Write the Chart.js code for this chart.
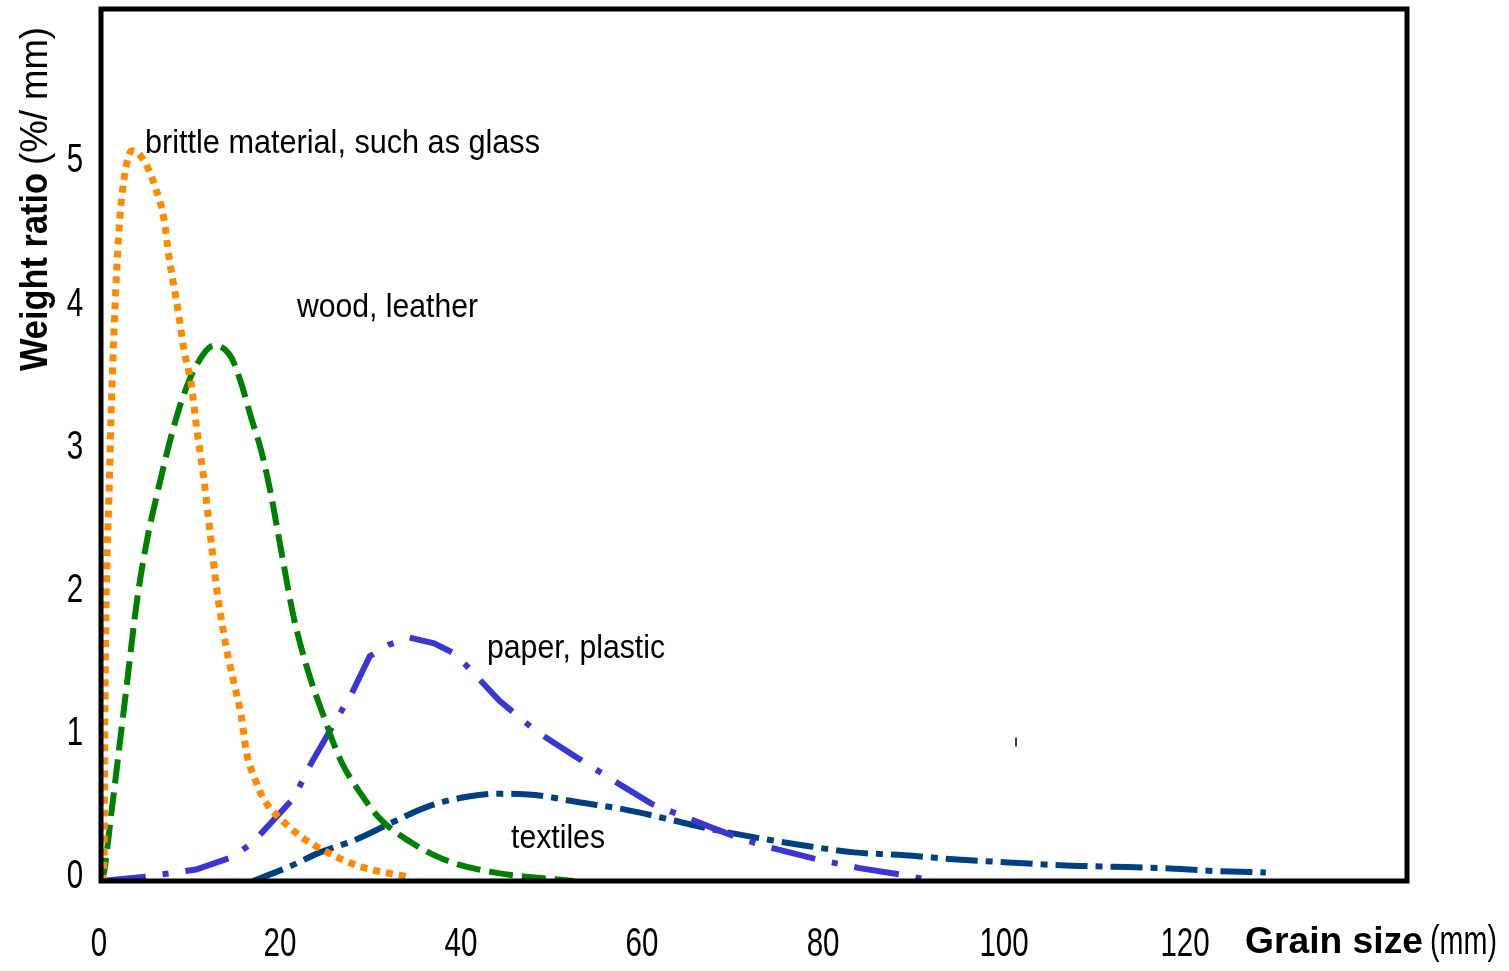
<!DOCTYPE html>
<html>
<head>
<meta charset="utf-8">
<script src="https://cdn.jsdelivr.net/npm/chart.js@4/dist/chart.umd.min.js"></script>
<style>
  html, body { margin: 0; padding: 0; background: #fff; }
  canvas { display: block; }
</style>
</head>
<body>
<canvas id="grain-chart" width="1509" height="971"></canvas>
<script>
  // grain size distribution curves
  const glassX = [0, 0.33, 0.44, 0.66, 0.88, 1.1, 1.44, 1.99, 2.54, 3.43, 4.75, 6.08, 6.96, 7.51, 8.07, 8.62, 9.17, 9.94, 10.6, 11.38, 12.15, 12.7, 13.26, 13.9, 14.7, 15.5, 16.1, 16.9, 18.0, 19.9, 22.1, 25.0, 28.7, 33.8];
  const glassY = [0, 0.15, 1.26, 2.24, 2.68, 3.22, 3.85, 4.55, 4.9, 5.1, 5.03, 4.83, 4.62, 4.36, 4.15, 3.94, 3.71, 3.48, 3.15, 2.8, 2.38, 2.08, 1.84, 1.61, 1.38, 1.15, 0.89, 0.73, 0.57, 0.43, 0.31, 0.2, 0.1, 0.03];

  const woodX = [0, 0.33, 1.1, 1.77, 2.87, 3.98, 5.08, 6.19, 7.73, 8.84, 10.28, 12.5, 14.36, 15.47, 16.57, 17.68, 18.78, 19.9, 21.3, 22.76, 24.6, 26.5, 28.7, 30.9, 34.25, 37.9, 43.4, 52.3];
  const woodY = [0, 0.06, 0.45, 0.8, 1.38, 1.96, 2.38, 2.7, 3.1, 3.34, 3.57, 3.74, 3.66, 3.48, 3.24, 3.01, 2.7, 2.31, 1.84, 1.49, 1.15, 0.84, 0.61, 0.43, 0.27, 0.15, 0.06, 0];

  const paperX = [0, 4.97, 10.5, 14.6, 16.8, 21.3, 23.2, 26.3, 27.7, 29.7, 31.8, 34.1, 36.8, 39.0, 40.6, 44.0, 48.0, 52.4, 56.4, 60.8, 65.2, 67.2, 70.1, 73.5, 79.2, 83.8, 88.8, 92.0];
  const paperY = [0, 0.03, 0.08, 0.17, 0.27, 0.58, 0.82, 1.16, 1.31, 1.57, 1.65, 1.7, 1.66, 1.59, 1.49, 1.26, 1.05, 0.87, 0.71, 0.54, 0.43, 0.38, 0.31, 0.24, 0.15, 0.09, 0.04, 0];

  const textileX = [16.8, 20.8, 24.2, 28.2, 32.2, 36.1, 40.6, 44.0, 48.0, 52.8, 57.8, 62.8, 66.1, 71.8, 77.5, 83.2, 88.8, 94.6, 100.2, 106.0, 111.6, 117.3, 123.0, 128.7];
  const textileY = [0, 0.1, 0.2, 0.29, 0.41, 0.52, 0.59, 0.61, 0.6, 0.55, 0.5, 0.43, 0.38, 0.31, 0.25, 0.2, 0.18, 0.15, 0.13, 0.11, 0.1, 0.09, 0.07, 0.06];

  // stray tick mark in the original figure
  const markX = [101.1];
  const markY = [0.97];

  const seriesNames = ["brittle material, such as glass", "wood, leather", "paper, plastic", "textiles"];
  const xTicks = [0, 20, 40, 60, 80, 100, 120];
  const yTicks = [0, 1, 2, 3, 4, 5];

  const FONT = '"Liberation Sans", Arial, sans-serif';

  const toPoints = (xs, ys) => xs.map((x, i) => ({ x: x, y: ys[i] }));

  // draw text squeezed/stretched horizontally to a target width
  function fitText(ctx, str, x, y, font, width) {
    ctx.save();
    ctx.font = font;
    const sx = width / ctx.measureText(str).width;
    ctx.translate(x, y);
    ctx.scale(sx, 1);
    ctx.textAlign = "left";
    ctx.fillText(str, 0, 0);
    ctx.restore();
  }

  function scaledText(ctx, str, cx, cy, font, sx) {
    ctx.save();
    ctx.font = font;
    const w = ctx.measureText(str).width * sx;
    ctx.translate(cx - w / 2, cy);
    ctx.scale(sx, 1);
    ctx.textAlign = "left";
    ctx.textBaseline = "middle";
    ctx.fillText(str, 0, 0);
    ctx.restore();
  }

  const framePlugin = {
    id: "frameAndText",
    afterDraw(chart) {
      const ctx = chart.ctx;
      const ca = chart.chartArea;
      const xs = chart.scales.x;
      const ys = chart.scales.y;

      ctx.save();
      ctx.strokeStyle = "#000";
      ctx.lineWidth = 5;
      ctx.strokeRect(ca.left, ca.top, ca.right - ca.left, ca.bottom - ca.top);

      ctx.fillStyle = "#000";
      ctx.textBaseline = "alphabetic";

      // tick labels
      xTicks.forEach(v => scaledText(ctx, String(v), xs.getPixelForValue(v) - 2, 945, "41px " + FONT, 0.72));
      yTicks.forEach(v => scaledText(ctx, String(v), 75, ys.getPixelForValue(v) - 4, "41px " + FONT, 0.72));

      // curve labels
      fitText(ctx, seriesNames[0], 145, 153, "34px " + FONT, 395);
      fitText(ctx, seriesNames[1], 297, 317, "34px " + FONT, 181);
      fitText(ctx, seriesNames[2], 487, 658, "34px " + FONT, 178);
      fitText(ctx, seriesNames[3], 511, 848, "34px " + FONT, 94);

      // x axis title
      fitText(ctx, "Grain size", 1245, 953, "bold 36px " + FONT, 178);
      fitText(ctx, "(mm)", 1430, 954, "40px " + FONT, 67);

      // y axis title, rotated
      ctx.save();
      ctx.translate(47, 371);
      ctx.rotate(-Math.PI / 2);
      fitText(ctx, "Weight ratio", 0, 0, "bold 38px " + FONT, 198);
      fitText(ctx, "(%/ mm)", 206, 0, "38px " + FONT, 138);
      ctx.restore();

      ctx.restore();
    }
  };

  const lineSet = (label, xs, ys, color, width, dash, tension) => ({
    label: label,
    data: toPoints(xs, ys),
    borderColor: color,
    borderWidth: width,
    borderDash: dash,
    borderCapStyle: "butt",
    pointRadius: 0,
    fill: false,
    tension: tension,
    cubicInterpolationMode: tension ? "monotone" : "default"
  });

  const ctx = document.getElementById("grain-chart").getContext("2d");
  const grainChart = new Chart(ctx, {
    type: "line",
    data: {
      datasets: [
        lineSet(seriesNames[0], glassX, glassY, "#ff8a00", 7, [7, 6], 0.4),
        lineSet(seriesNames[1], woodX, woodY, "#008000", 6, [24, 9], 0.4),
        lineSet(seriesNames[2], paperX, paperY, "#3b35d3", 6, [45, 17, 6, 17], 0),
        lineSet(seriesNames[3], textileX, textileY, "#004080", 6, [32, 8, 7, 8], 0.4),
        {
          label: "mark",
          data: toPoints(markX, markY),
          showLine: false,
          pointStyle: "line",
          rotation: 90,
          pointRadius: 4.5,
          borderWidth: 1.5,
          borderColor: "#000"
        }
      ]
    },
    options: {
      responsive: false,
      animation: false,
      events: [],
      layout: { padding: { top: 9, right: 102, left: 0, bottom: 0 } },
      plugins: {
        legend: { display: false },
        tooltip: { enabled: false }
      },
      scales: {
        x: {
          type: "linear",
          min: 0,
          max: 144.3,
          grid: { display: false },
          border: { display: false },
          ticks: { display: false },
          afterFit: s => { s.height = 90; }
        },
        y: {
          type: "linear",
          min: 0,
          max: 6.09,
          grid: { display: false },
          border: { display: false },
          ticks: { display: false },
          afterFit: s => { s.width = 101; }
        }
      }
    },
    plugins: [framePlugin]
  });
</script>
</body>
</html>
